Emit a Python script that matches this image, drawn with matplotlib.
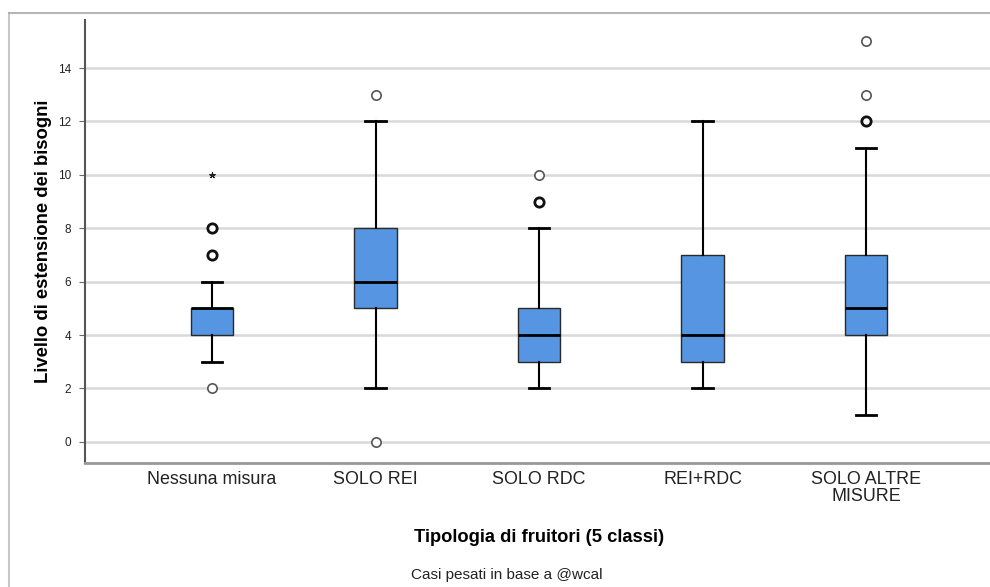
import matplotlib
matplotlib.use("Agg")
import matplotlib.pyplot as plt
from matplotlib.lines import Line2D

plt.rcParams['font.family'] = ['Liberation Sans', 'DejaVu Sans']

categorie = ["Nessuna misura", "SOLO REI", "SOLO RDC", "REI+RDC", "SOLO ALTRE\nMISURE"]
q1 = [4, 5, 3, 3, 4]
mediana = [5, 6, 4, 4, 5]
q3 = [5, 8, 5, 7, 7]
baffo_min = [3, 2, 2, 2, 1]
baffo_max = [6, 12, 8, 12, 11]
# outlier: (indice categoria, valore)
outlier_singoli = [(0, 2), (1, 13), (1, 0), (2, 10), (4, 15), (4, 13)]
outlier_multipli = [(0, 7), (0, 8), (2, 9), (4, 12)]
estremi = [(0, 10)]
yticks = [0, 2, 4, 6, 8, 10, 12, 14]

W, H = 990, 587
fig = plt.figure(figsize=(W / 100, H / 100), dpi=100)
ax = fig.add_axes([85 / W, 1 - 463 / H, 1 - 85 / W, (463 - 20) / H])

stats = []
for i, nome in enumerate(categorie):
    stats.append(dict(label=nome, q1=q1[i], med=mediana[i], q3=q3[i],
                      whislo=baffo_min[i], whishi=baffo_max[i], fliers=[]))

pos = list(range(len(categorie)))
ax.bxp(stats, positions=pos, widths=0.26, capwidths=0.125, showfliers=False,
       patch_artist=True,
       boxprops=dict(facecolor="#5595e2", edgecolor="#2a2a2a", linewidth=1.0),
       medianprops=dict(color="black", linewidth=2.0),
       whiskerprops=dict(color="black", linewidth=1.5),
       capprops=dict(color="black", linewidth=2.0), zorder=3)

ax.scatter([p[0] for p in outlier_singoli], [p[1] for p in outlier_singoli],
           s=45, facecolors="white", edgecolors="#555555", linewidths=1.2, zorder=4)
ax.scatter([p[0] for p in outlier_multipli], [p[1] for p in outlier_multipli],
           s=45, facecolors="white", edgecolors="#111111", linewidths=2.0, zorder=4)
ax.scatter([p[0] for p in estremi], [p[1] for p in estremi],
           s=14, marker=(5, 2, 0), color="#222222", linewidths=0.9, zorder=4)

ax.set_xlim(-0.777, (990 - 212) / 163.5)
ax.set_ylim(-0.79, 15.8)
ax.set_yticks(yticks)
ax.set_yticklabels([str(v) for v in yticks], fontsize=8.5, color="#222222")
ax.set_xticks(pos)
ax.set_xticklabels(categorie, fontsize=12.9, color="#222222", linespacing=1.0)
ax.tick_params(axis="y", length=4, color="#666666", pad=6)
ax.tick_params(axis="x", length=0, pad=6)
ax.yaxis.grid(True, color="#d9d9d9", linewidth=1.8, zorder=0)
ax.set_axisbelow(True)
for s in ["top", "right"]:
    ax.spines[s].set_visible(False)
ax.spines["left"].set_color("#555555")
ax.spines["left"].set_linewidth(1.5)
ax.spines["bottom"].set_color("#999999")
ax.spines["bottom"].set_linewidth(2.0)

ax.set_ylabel("Livello di estensione dei bisogni", fontsize=13.3,
              fontweight="bold", labelpad=4)
fig.text(539 / W, 1 - 538 / H, "Tipologia di fruitori (5 classi)",
         fontsize=13.2, fontweight="bold", ha="center", va="center")
fig.text(507 / W, 1 - 575 / H, "Casi pesati in base a @wcal",
         fontsize=11, ha="center", va="center", color="#222222")

# cornice esterna
fig.add_artist(Line2D([8.5 / W, 8.5 / W], [0, 1 - 13 / H], color="#c8c8c8", lw=1.5))
fig.add_artist(Line2D([8.5 / W, 1], [1 - 13 / H, 1 - 13 / H], color="#a8a8a8", lw=1.2))

fig.savefig("out.png", dpi=100)
